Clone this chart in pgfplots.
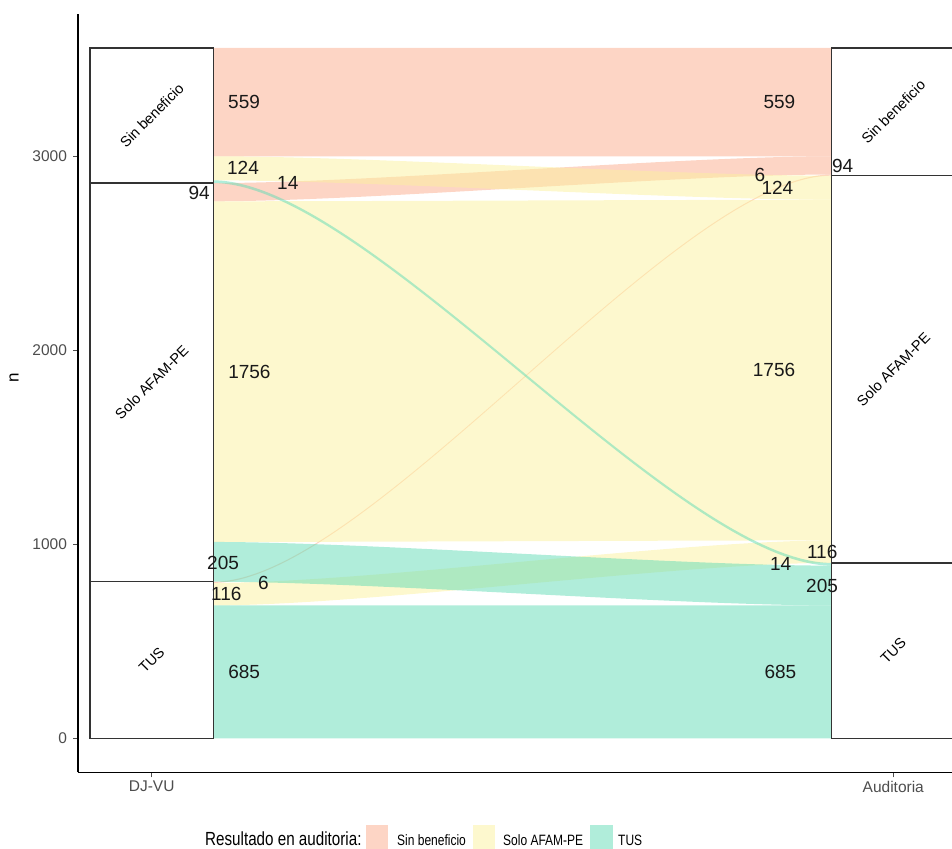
\documentclass[border=0pt]{standalone}
\usepackage{fontspec}
\setmainfont{Liberation Sans}
\newfontfamily\legfont[FakeStretch=0.8]{Liberation Sans}
\usepackage{pgfplots}
\pgfplotsset{compat=1.18}

\definecolor{sinb}{HTML}{FBAB8B}
\definecolor{solo}{HTML}{FBF19D}
\definecolor{tus}{HTML}{61DBB5}
\definecolor{boxline}{HTML}{333333}
\definecolor{ticktext}{HTML}{4D4D4D}

% flow from DJ-VU (x=1) to Auditoria (x=2): colour, left top, left bottom, right top, right bottom
\newcommand{\flow}[5]{%
  \fill[#1, fill opacity=0.5]
    (axis cs:1.0831,#2) .. controls (axis cs:1.2916,#2) and (axis cs:1.7084,#4) .. (axis cs:1.9169,#4)
    -- (axis cs:1.9169,#5) .. controls (axis cs:1.7084,#5) and (axis cs:1.2916,#3) .. (axis cs:1.0831,#3)
    -- cycle;}
% stratum box: x centre, bottom, top
\newcommand{\stratum}[3]{%
  \addplot[boxline, line width=1.4pt, fill=white] coordinates
    {(#1-0.0831,#2) (#1+0.0831,#2) (#1+0.0831,#3) (#1-0.0831,#3)} -- cycle;}

\newcommand{\numfont}{\fontsize{19}{22}\selectfont}
\newcommand{\strfont}{\fontsize{14.5}{17}\selectfont}

\begin{document}
\begin{tikzpicture}
\useasboundingbox (0,0) rectangle (952pt,848pt);
\begin{axis}[
    at={(78pt,75.7pt)}, anchor=south west,
    scale only axis, width=874pt, height=758.3pt,
    xmin=0.9006, xmax=2.0792, ymin=-175.3, ymax=3733.5,
    axis x line*=bottom, axis y line*=left,
    axis line style={black, line width=1.4pt},
    tick align=outside, major tick length=5pt,
    tick style={ticktext, line width=1pt},
    xtick={1,2}, xticklabels={DJ-VU,Auditoria},
    ytick={0,1000,2000,3000},
    /pgf/number format/1000 sep={},
    /pgf/number format/assume math mode=true,
    ticklabel style={font=\fontsize{15.5}{18}\selectfont, text=ticktext},
    yticklabel style={xshift=-2.5pt},
    ylabel={n},
    ylabel style={font=\fontsize{17}{19}\selectfont, at={(axis description cs:-0.0732,0.52)}, anchor=center},
    clip=true,
]
% flows, counts: 559 94 6 | 124 1756 116 | 14 205 685
\flow{sinb}{3559}{3000}{3559}{3000}
\flow{sinb}{2862}{2768}{3000}{2906}
\flow{sinb}{807}{801}{2906}{2900}
\flow{solo}{3000}{2876}{2900}{2776}
\flow{solo}{2768}{1012}{2776}{1020}
\flow{solo}{801}{685}{1020}{904}
\flow{tus}{2876}{2862}{904}{890}
\flow{tus}{1012}{807}{890}{685}
\flow{tus}{685}{0}{685}{0}

% strata
\stratum{1}{2862}{3559}
\stratum{1}{807}{2862}
\stratum{1}{0}{807}
\stratum{2}{2900}{3559}
\stratum{2}{904}{2900}
\stratum{2}{0}{904}

\node[rotate=45, font=\strfont] at (axis cs:1,3210.5) {Sin beneficio};
\node[rotate=45, font=\strfont] at (axis cs:1,1834.5) {Solo AFAM-PE};
\node[rotate=45, font=\strfont] at (axis cs:1,403.5) {TUS};
\node[rotate=45, font=\strfont] at (axis cs:2,3229.5) {Sin beneficio};
\node[rotate=45, font=\strfont] at (axis cs:2,1902) {Solo AFAM-PE};
\node[rotate=45, font=\strfont] at (axis cs:2,452) {TUS};

% flow counts, left side
\begin{scope}[every node/.style={font=\numfont, inner sep=0pt, text=black!90}]
\node[anchor=west] at (axis cs:1.1029,3279.5) {559};
\node[anchor=west] at (axis cs:1.1015,2938) {124};
\node[anchor=west] at (axis cs:1.169,2862) {14};
\node[anchor=east] at (axis cs:1.0786,2812) {94};
\node[anchor=west] at (axis cs:1.103,1890) {1756};
\node[anchor=west] at (axis cs:1.0746,905) {205};
\node[anchor=west] at (axis cs:1.1433,802) {6};
\node[anchor=west] at (axis cs:1.080,744) {116};
\node[anchor=west] at (axis cs:1.103,342) {685};
% right side
\node[anchor=east] at (axis cs:1.8681,3279.5) {559};
\node at (axis cs:1.820,2904) {6};
\node[anchor=east] at (axis cs:1.8654,2838) {124};
\node[anchor=west] at (axis cs:1.9173,2952) {94};
\node[anchor=east] at (axis cs:1.868,1898) {1756};
\node[anchor=west] at (axis cs:1.8835,960) {116};
\node[anchor=west] at (axis cs:1.8337,898) {14};
\node[anchor=west] at (axis cs:1.8823,786) {205};
\node[anchor=east] at (axis cs:1.8695,342) {685};
\end{scope}
\end{axis}

% legend
\node[anchor=base west, inner sep=0pt, font=\legfont\fontsize{19}{22}\selectfont] at (205pt,3pt) {Resultado en auditoria:};
\fill[sinb, fill opacity=0.5] (366pt,-1pt) rectangle (388pt,23pt);
\node[anchor=base west, inner sep=0pt, font=\legfont\fontsize{15}{18}\selectfont] at (397pt,3pt) {Sin beneficio};
\fill[solo, fill opacity=0.5] (473pt,-1pt) rectangle (495pt,23pt);
\node[anchor=base west, inner sep=0pt, font=\legfont\fontsize{15}{18}\selectfont] at (503pt,3pt) {Solo AFAM-PE};
\fill[tus, fill opacity=0.5] (590pt,-1pt) rectangle (613pt,23pt);
\node[anchor=base west, inner sep=0pt, font=\legfont\fontsize{15}{18}\selectfont] at (618pt,3pt) {TUS};
\end{tikzpicture}
\end{document}
